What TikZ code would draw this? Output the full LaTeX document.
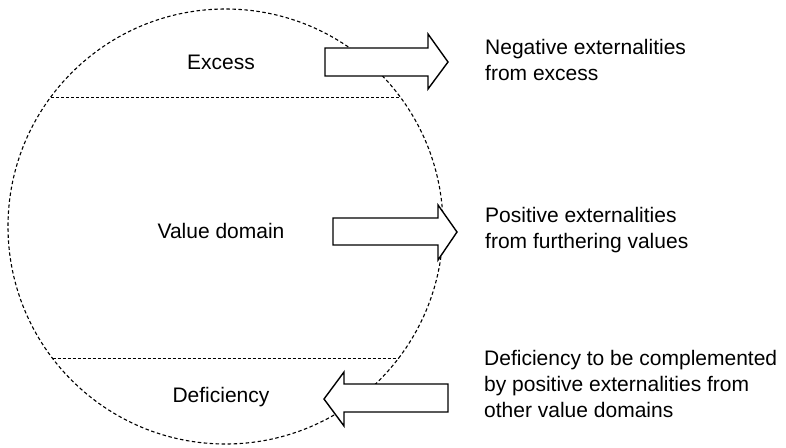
\documentclass[tikz,border=0pt]{standalone}
\usepackage{fontspec}
\setmainfont{Liberation Sans}
\begin{document}
\begin{tikzpicture}[x=1pt,y=-1pt,
  dashcirc/.style={line width=1.1pt, dash pattern=on 3.5pt off 2.5pt},
  chord/.style={line width=1pt, dash pattern=on 3pt off 2pt},
  fatarrow/.style={draw, fill=white, line width=1.4pt, line join=miter},
  lab/.style={font=\fontsize{21}{26}\selectfont, inner sep=0pt},
  ext/.style={lab, anchor=west, align=left}]
\useasboundingbox (0,0) rectangle (786,447);
% circle
\coordinate (c) at (225.5,226.5);
\draw[dashcirc] (c) circle[radius=217.5];
% chords
\coordinate (t1) at (51,97);
\coordinate (t2) at (400,97);
\coordinate (b1) at (52.5,358);
\coordinate (b2) at (398.5,358);
\draw[chord] (t1) -- (t2);
\draw[chord] (b1) -- (b2);
% labels inside
\node[lab] (excess) at (221,62) {Excess};
\node[lab] (value) at (221,231) {Value domain};
\node[lab] (defic) at (221,397) {Deficiency};
% arrows
\draw[fatarrow] (325,48) -- (428,48) -- (428,34) -- (448,62) -- (428,89) -- (428,76) -- (325,76) -- cycle;
\draw[fatarrow] (333,218) -- (438,218) -- (438,205) -- (457,232) -- (438,260) -- (438,245) -- (333,245) -- cycle;
\draw[fatarrow] (448,384) -- (344,384) -- (344,372) -- (324,399) -- (344,426) -- (344,412) -- (448,412) -- cycle;
% right texts
\node[ext] (neg) at (485,60) {Negative externalities\\from excess};
\node[ext] (pos) at (485,230) {Positive externalities\\from furthering values};
\node[ext] (def) at (484,384) {Deficiency to be complemented\\by positive externalities from\\other value domains};
\end{tikzpicture}
\end{document}
